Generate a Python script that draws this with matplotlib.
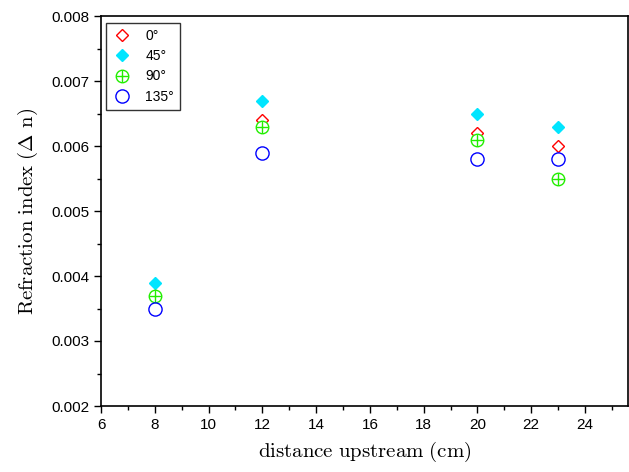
import matplotlib
matplotlib.use('Agg')
import matplotlib.pyplot as plt
from matplotlib.ticker import MultipleLocator, FormatStrFormatter

# donnees
distance = [8, 12, 20, 23]
n_0 = [0.0037, 0.0064, 0.0062, 0.0060]
n_45 = [0.0039, 0.0067, 0.0065, 0.0063]
n_90 = [0.0037, 0.0063, 0.0061, 0.0055]
n_135 = [0.0035, 0.0059, 0.0058, 0.0058]

plt.rcParams['mathtext.fontset'] = 'cm'
plt.rcParams['font.family'] = ['Liberation Sans', 'DejaVu Sans']

fig = plt.figure(figsize=(6.29, 4.72), dpi=100)
ax = fig.add_axes([101/629, 66/472, 527/629, 390/472])

h0, = ax.plot(distance, n_0, ls='none', marker='D', ms=6.5, mfc='none', mec='red', mew=1.0)
h45, = ax.plot(distance, n_45, ls='none', marker='D', ms=6.5, mfc='#00e5ff', mec='#00e5ff')
# cercle plein blanc + croix pour le 90 deg
h90a, = ax.plot(distance, n_90, ls='none', marker='o', ms=9, mfc='white', mec='#22ee00', mew=1.0)
h90b, = ax.plot(distance, n_90, ls='none', marker='+', ms=9, mec='#22ee00', mew=1.0)
h135, = ax.plot(distance, n_135, ls='none', marker='o', ms=9.5, mfc='none', mec='#0000ff', mew=1.0)

ax.set_xlim(6, 25.6)
ax.set_ylim(0.002, 0.008)
ax.xaxis.set_major_locator(MultipleLocator(2))
ax.xaxis.set_minor_locator(MultipleLocator(1))
ax.yaxis.set_major_locator(MultipleLocator(0.001))
ax.yaxis.set_minor_locator(MultipleLocator(0.0005))
ax.tick_params(which='major', direction='out', length=5, width=1, labelsize=11)
ax.tick_params(which='minor', direction='out', length=3, width=1)
ax.tick_params(top=False, right=False)
ax.yaxis.set_major_formatter(FormatStrFormatter('%.3f'))
for s in ax.spines.values():
    s.set_linewidth(1.2)

ax.set_xlabel(r'$\mathrm{distance\ upstream\ (cm)}$', fontsize=15, labelpad=6)
ax.set_ylabel(r'$\mathrm{Refraction\ index\ (\Delta\ n)}$', fontsize=15, labelpad=8)

leg = ax.legend([h0, h45, (h90a, h90b), h135], ['0°', '45°', '90°', '135°'],
                loc='upper left', bbox_to_anchor=(0.009, 0.983), fontsize=10, frameon=True,
                fancybox=False, edgecolor='black', borderpad=0.45, labelspacing=0.45,
                handletextpad=1.0, handlelength=1.4, borderaxespad=0)
leg.get_frame().set_linewidth(1.0)

fig.savefig('out.png', dpi=100)
